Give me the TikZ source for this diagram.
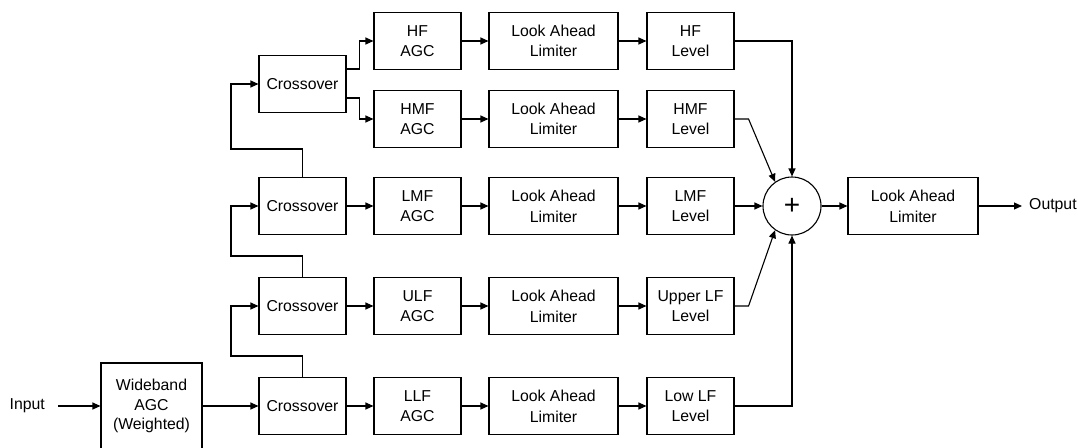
\documentclass[tikz,border=0pt]{standalone}
\usepackage{fontspec}
\setmainfont{Liberation Sans}
\usetikzlibrary{arrows.meta}
\begin{document}
\begin{tikzpicture}[x=1pt,y=-1pt,
  every node/.style={font=\fontsize{15.8}{20.7}\selectfont},
  blk/.style={draw,line width=1.1pt,minimum height=57pt,inner sep=0pt,align=center},
  sblk/.style={blk,minimum width=87pt},
  wblk/.style={blk,minimum width=129pt},
  lbl/.style={inner sep=0pt},
  ln/.style={line width=1.1pt},
  arr/.style={ln,-{Triangle[length=8pt,width=7pt]}}]
\useasboundingbox (0,0) rectangle (1078,447);
% wideband
\node[blk,minimum width=101pt,minimum height=86pt,font=\fontsize{15.8}{19.5}\selectfont] (wb) at (151.5,406) {Wideband\\AGC\\(Weighted)};
\node[lbl,anchor=east] (in) at (45,406) {Input};
% crossovers
\node[sblk] (x1) at (302.5,84) {Crossover};
\node[sblk] (x2) at (302.5,206) {Crossover};
\node[sblk] (x3) at (302.5,306) {Crossover};
\node[sblk] (x4) at (302.5,406) {Crossover};
% AGCs
\node[sblk] (a1) at (417.5,41) {HF\\AGC};
\node[sblk] (a2) at (417.5,119) {HMF\\AGC};
\node[sblk] (a3) at (417.5,206) {LMF\\AGC};
\node[sblk] (a4) at (417.5,306) {ULF\\AGC};
\node[sblk] (a5) at (417.5,406) {LLF\\AGC};
% limiters
\node[wblk] (l1) at (553.5,41) {Look Ahead\\Limiter};
\node[wblk] (l2) at (553.5,119) {Look Ahead\\Limiter};
\node[wblk] (l3) at (553.5,206) {Look Ahead\\Limiter};
\node[wblk] (l4) at (553.5,306) {Look Ahead\\Limiter};
\node[wblk] (l5) at (553.5,406) {Look Ahead\\Limiter};
% levels
\node[sblk] (v1) at (690.5,41) {HF\\Level};
\node[sblk] (v2) at (690.5,119) {HMF\\Level};
\node[sblk] (v3) at (690.5,206) {LMF\\Level};
\node[sblk] (v4) at (690.5,306) {Upper LF\\Level};
\node[sblk] (v5) at (690.5,406) {Low LF\\Level};
% sum
\node[draw,ln,circle,minimum size=58pt,inner sep=0pt,font=\fontsize{28}{28}\selectfont] (s) at (792,206) {+};
\node[blk,minimum width=130pt] (fl) at (913,206) {Look Ahead\\Limiter};
\node[lbl,anchor=west] (out) at (1029,206) {Output};
% connectors
\draw[arr] ([xshift=13pt]in.east) -- (wb.west);
\draw[arr] (wb.east) -- (x4.west);
\draw[arr] (x4.north) |- (231,356) |- (x3.west);
\draw[arr] (x3.north) |- (231,256) |- (x2.west);
\draw[arr] (x2.north) |- (231,149) |- (x1.west);
\draw[arr] ([yshift=15pt]x1.east) -- ++(13,0) |- (a1.west);
\draw[arr] ([yshift=-14pt]x1.east) -- ++(13,0) |- (a2.west);
\draw[arr] (x2.east) -- (a3.west);
\draw[arr] (x3.east) -- (a4.west);
\draw[arr] (x4.east) -- (a5.west);
\foreach \i in {1,...,5}{
  \draw[arr] (a\i.east) -- (l\i.west);
  \draw[arr] (l\i.east) -- (v\i.west);
}
\draw[arr] (v1.east) -| (s.north);
\draw[arr] (v2.east) -- ++(14,0) -- (s.125);
\draw[arr] (v3.east) -- (s.west);
\draw[arr] (v4.east) -- ++(14,0) -- (s.235);
\draw[arr] (v5.east) -| (s.south);
\draw[arr] (s.east) -- (fl.west);
\draw[arr] (fl.east) -- ([xshift=-7pt]out.west);
\end{tikzpicture}
\end{document}
